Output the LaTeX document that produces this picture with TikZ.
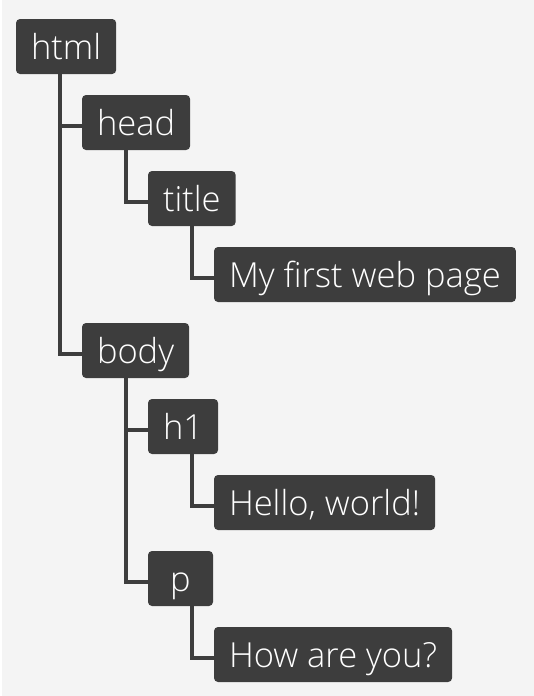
\documentclass[tikz,border=0pt]{standalone}
\usepackage{fontspec}
\setmainfont{Open Sans}[UprightFont=* Light,Ligatures=NoCommon]
\usetikzlibrary{positioning}

\definecolor{tagfill}{HTML}{3D3D3D}
\definecolor{pagebg}{HTML}{F4F4F4}

\begin{document}
\begin{tikzpicture}[
  x=1pt,y=1pt,
  font=\fontsize{34.5}{40}\selectfont,
  tag/.style={fill=tagfill,text=white,rounded corners=4pt,minimum height=55pt,
    minimum width=65pt,inner xsep=15pt,inner ysep=0pt,outer sep=0pt,
    text height=28pt,text depth=3pt},
  link/.style={draw=tagfill,line width=3.5pt},
]
  \useasboundingbox (0,0) rectangle (534,-696);
  \fill[pagebg] (2,0) rectangle (534,-696);

  \node[tag,anchor=north west] (html) at (16,-19) {html};
  \node[tag,below right=21pt and 66pt of html.south west] (head) {head};
  \node[tag,below right=21pt and 66pt of head.south west] (title) {title};
  \node[tag,below right=21pt and 66pt of title.south west] (page) {My first web page};
  \node[tag,below right=21pt and -132pt of page.south west] (body) {body};
  \node[tag,below right=21pt and 66pt of body.south west] (h1) {h1};
  \node[tag,below right=21pt and 66pt of h1.south west] (hello) {Hello, world!};
  \node[tag,below right=21pt and -66pt of hello.south west] (p) {p};
  \node[tag,below right=21pt and 66pt of p.south west] (how) {How are you?};

  \draw[link] ([xshift=44pt]html.south west) |- ([yshift=-3.5pt]head.west);
  \draw[link] ([xshift=44pt]html.south west) |- ([yshift=-3.5pt]body.west);
  \draw[link] ([xshift=44pt]head.south west) |- ([yshift=-3.5pt]title.west);
  \draw[link] ([xshift=44pt]title.south west) |- ([yshift=-3.5pt]page.west);
  \draw[link] ([xshift=44pt]body.south west) |- ([yshift=-3.5pt]h1.west);
  \draw[link] ([xshift=44pt]body.south west) |- ([yshift=-3.5pt]p.west);
  \draw[link] ([xshift=44pt]h1.south west) |- ([yshift=-3.5pt]hello.west);
  \draw[link] ([xshift=44pt]p.south west) |- ([yshift=-3.5pt]how.west);
\end{tikzpicture}
\end{document}
